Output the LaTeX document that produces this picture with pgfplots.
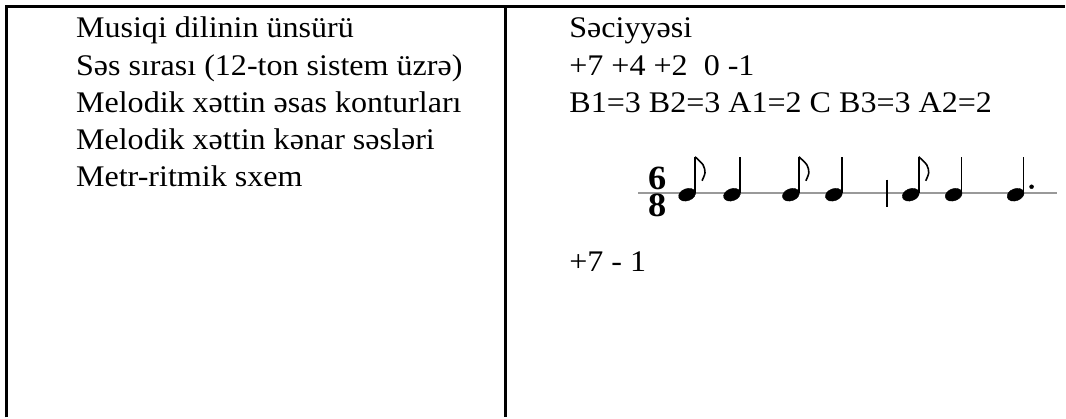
\documentclass[border=0pt]{standalone}
\usepackage{pgfplots}
\pgfplotsset{compat=1.18}
\usepackage{fontspec}
\setmainfont[FakeStretch=1.07]{Liberation Serif}

\begin{document}
\begin{tikzpicture}[
    cell/.style={anchor=base west, inner sep=0pt, font=\fontsize{30}{36}\selectfont},
    timesig/.style={anchor=center, inner sep=0pt, align=center, font=\fontsize{34}{27}\selectfont\bfseries},
]
\begin{axis}[
    width=1066pt, height=418pt, scale only axis,
    xmin=0, xmax=1066, ymin=0, ymax=418,
    y dir=reverse, clip=false,
    axis line style={draw=none}, xtick=\empty, ytick=\empty,
]
% table rules
\addplot[black, line width=3pt] coordinates {(7,418) (7,7) (1066,7)};
\addplot[black, line width=3pt] coordinates {(506,7) (506,418)};

% staff line
\addplot[gray!80, line width=2pt] coordinates {(639,193) (1058,193)};
% bar line
\addplot[black, line width=2pt] coordinates {(888,180) (888,207)};
% stems
\addplot[black, line width=1.6pt, unbounded coords=jump] coordinates {
    (696,193) (696,157) (nan,nan)
    (741,193) (741,157) (nan,nan)
    (800,193) (800,157) (nan,nan)
    (843,193) (843,157) (nan,nan)
    (920,193) (920,157) (nan,nan)
    (963,193) (963,157) (nan,nan)
    (1025,193) (1025,157)
};
% flags of the eighth notes
\addplot[black, line width=1.6pt, smooth] coordinates {(696,157) (704,165) (706,173) (703,181)};
\addplot[black, line width=1.6pt, smooth] coordinates {(800,157) (808,165) (810,173) (807,181)};
\addplot[black, line width=1.6pt, smooth] coordinates {(920,157) (928,165) (930,173) (927,181)};
% note heads
\addplot[only marks, mark=*, black, mark size=6pt,
    mark options={rotate=20, xscale=1.45}] coordinates {
    (688,195) (733,195) (792,195) (835,195) (912,195) (955,195) (1017,195)
};
% augmentation dot
\addplot[only marks, mark=*, black, mark size=2pt] coordinates {(1033,187)};

% time signature 6/8
\node[timesig] at (axis cs:658,192) {6\\8};

% left column
\node[cell] at (axis cs:76,38) {Musiqi dilinin ünsürü};
\node[cell] at (axis cs:76,75.3) {Səs sırası (12-ton sistem üzrə)};
\node[cell] at (axis cs:76,112.6) {Melodik xəttin əsas konturları};
\node[cell] at (axis cs:76,149.9) {Melodik xəttin kənar səsləri};
\node[cell] at (axis cs:76,187.2) {Metr-ritmik sxem};

% right column
\node[cell] at (axis cs:570,38) {Səciyyəsi};
\node[cell] at (axis cs:570,75.3) {+7 +4 +2 \ 0 -1};
\node[cell] at (axis cs:570,112.6) {B1=3 B2=3 A1=2 C B3=3 A2=2};
\node[cell] at (axis cs:570,272) {+7 - 1};
\end{axis}
\end{tikzpicture}
\end{document}
